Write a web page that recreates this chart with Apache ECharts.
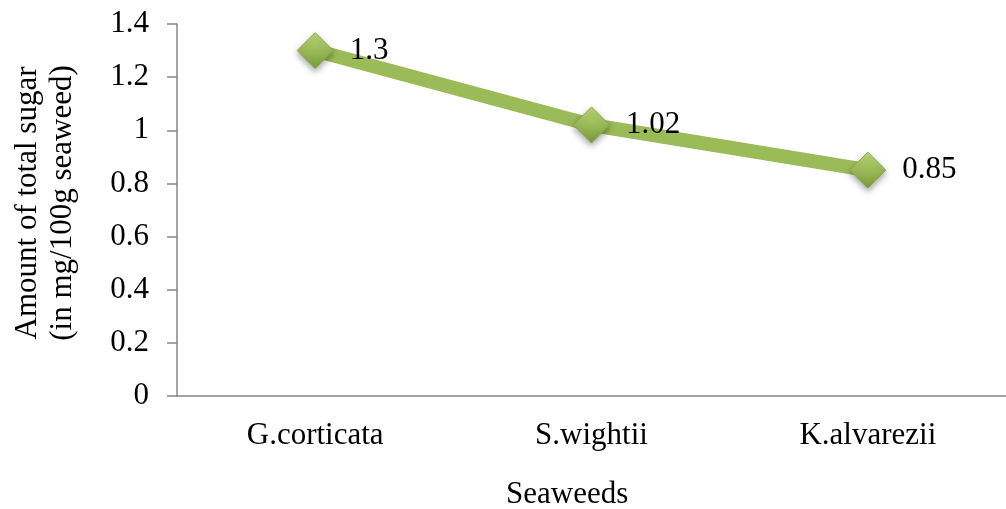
<!DOCTYPE html>
<html>
<head>
<meta charset="utf-8">
<script src="https://cdn.jsdelivr.net/npm/echarts@6/dist/echarts.min.js"></script>
<style>
  html, body { margin: 0; padding: 0; background: #ffffff; }
  #chart { width: 1006px; height: 509px; }
</style>
</head>
<body>
<div id="chart"></div>
<script>
// Total sugar content per seaweed species
const categories = ['G.corticata', 'S.wightii', 'K.alvarezii'];
const sugarValues = [1.3, 1.02, 0.85];
const yTicks = { min: 0, max: 1.4, interval: 0.2 };

const FONT = '"Liberation Serif", "Times New Roman", serif';
const FONT_SIZE = 31;
const AXIS_GREY = '#868686';

const chart = echarts.init(document.getElementById('chart'), null, { renderer: 'canvas' });

chart.setOption({
  animation: false,
  backgroundColor: '#ffffff',
  grid: { left: 177, top: 24, width: 840, height: 372, containLabel: false },
  xAxis: {
    type: 'category',
    data: categories,
    boundaryGap: true,
    axisLine: { lineStyle: { color: AXIS_GREY, width: 1.5 } },
    axisTick: { show: false },
    axisLabel: { color: '#000', fontFamily: FONT, fontSize: FONT_SIZE, margin: 24 }
  },
  yAxis: {
    type: 'value',
    min: yTicks.min,
    max: yTicks.max,
    interval: yTicks.interval,
    name: 'Amount of total sugar\n(in mg/100g seaweed)',
    nameLocation: 'middle',
    nameGap: 97,
    nameTextStyle: {
      color: '#000', fontFamily: FONT, fontSize: FONT_SIZE, lineHeight: 35,
      padding: [0, 0, 0, 14]
    },
    axisLine: { show: true, lineStyle: { color: AXIS_GREY, width: 1.5 } },
    axisTick: { show: true, length: 10, inside: false, lineStyle: { color: AXIS_GREY, width: 1.5 } },
    splitLine: { show: false },
    axisLabel: {
      color: '#000', fontFamily: FONT, fontSize: FONT_SIZE, margin: 28,
      formatter: v => String(Math.round(v * 10) / 10)
    }
  },
  graphic: [{
    type: 'text',
    left: 506,
    top: 479,
    style: { text: 'Seaweeds', fill: '#000', font: FONT_SIZE + 'px ' + FONT }
  }],
  series: [{
    type: 'line',
    data: sugarValues,
    lineStyle: { color: '#9BBB59', width: 14 },
    symbol: 'diamond',
    symbolSize: 36,
    itemStyle: {
      color: new echarts.graphic.LinearGradient(0, 0, 0, 1, [
        { offset: 0, color: '#bcd97a' },
        { offset: 0.5, color: '#9bbb59' },
        { offset: 1, color: '#7a9a3a' }
      ]),
      borderColor: '#8aab48',
      borderWidth: 1,
      shadowColor: 'rgba(0,0,0,0.35)',
      shadowBlur: 6,
      shadowOffsetY: 3
    },
    label: {
      show: true,
      position: 'right',
      distance: 16,
      color: '#000',
      fontFamily: FONT,
      fontSize: FONT_SIZE
    }
  }]
});
</script>
</body>
</html>
